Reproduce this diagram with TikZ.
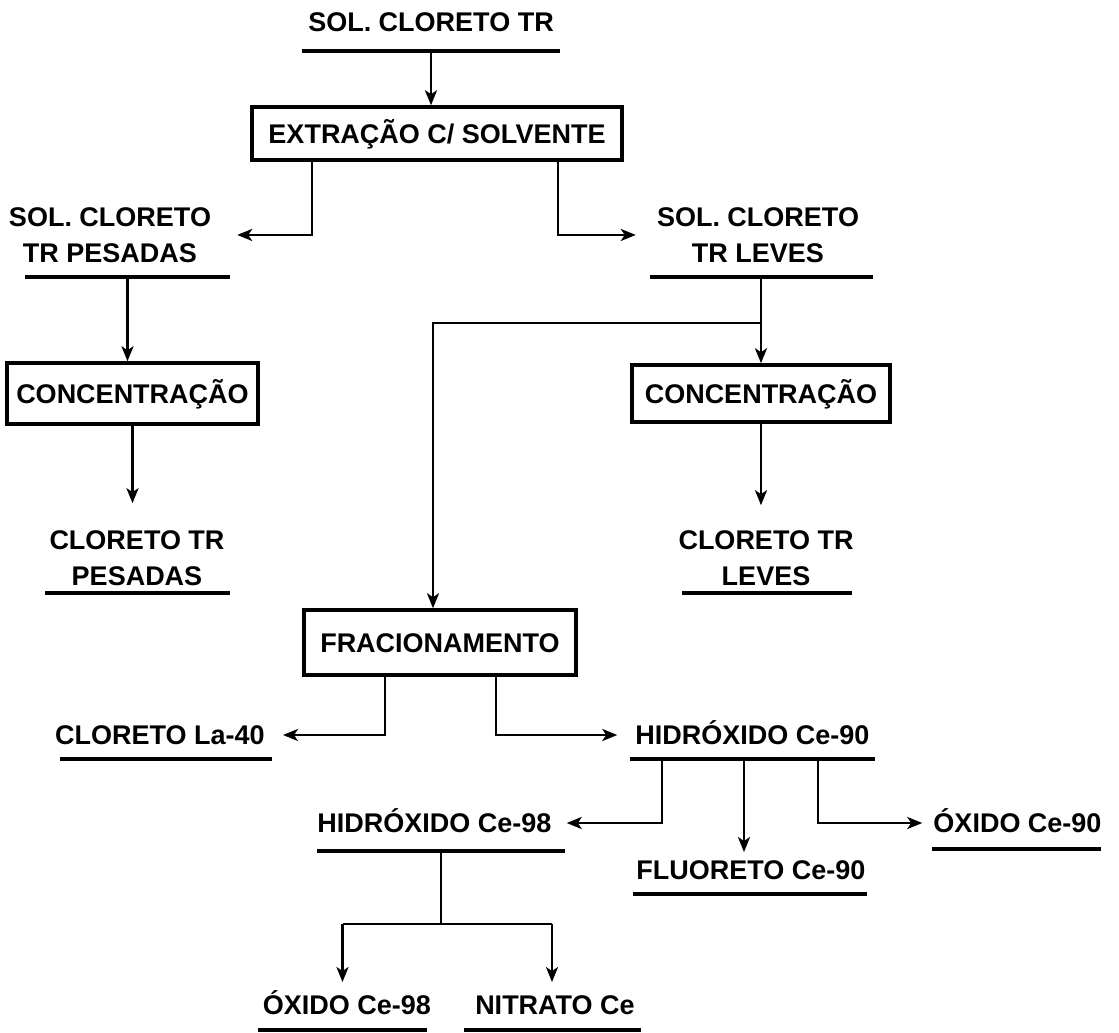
\documentclass[tikz,border=0pt]{standalone}
\usepackage{fontspec}
\setmainfont{Liberation Sans}
\usetikzlibrary{arrows.meta}
\begin{document}
\begin{tikzpicture}[x=1pt,y=-1pt,
  lbl/.style={font=\fontsize{27}{36}\selectfont\bfseries, inner xsep=3pt, inner ysep=3pt, text height=19.5pt, text depth=0pt},
  lbltwo/.style={font=\fontsize{27}{36}\selectfont\bfseries, inner xsep=3pt, inner ysep=3pt, align=center, anchor=north},
  ul/.style={fill=black, draw=none, inner sep=0pt, minimum height=4pt, rectangle},
  procbox/.style={draw, line width=3.5pt, inner sep=0pt, font=\fontsize{27}{36}\selectfont\bfseries, text height=19.5pt, text depth=0pt},
  conn/.style={line width=2.6pt},
  arr/.style={conn, -{Stealth[length=15pt,width=12pt,inset=4pt]}}
]
\useasboundingbox (0,0) rectangle (1119,1033);

% labels and boxes
\node[lbl] (t0) at (431,22) {SOL. CLORETO TR};
\node[ul,minimum width=258pt] (u0) at (431,51) {};
\node[procbox,minimum width=370pt,minimum height=53pt] (b1) at (437,133.5) {EXTRAÇÃO C/ SOLVENTE};

\node[lbltwo] (t1) at (110,204.2) {SOL. CLORETO\\TR PESADAS};
\node[ul,minimum width=205pt] (u1) at (127.5,277) {};
\node[lbltwo] (t2) at (758,204.2) {SOL. CLORETO\\TR LEVES};
\node[ul,minimum width=223pt] (u2) at (761.5,277) {};

\node[procbox,minimum width=251pt,minimum height=61pt] (b2) at (132.5,393.5) {CONCENTRAÇÃO};
\node[procbox,minimum width=258pt,minimum height=57pt] (b3) at (761,393.5) {CONCENTRAÇÃO};

\node[lbltwo] (t3) at (137,527.2) {CLORETO TR\\PESADAS};
\node[ul,minimum width=185pt] (u3) at (137.5,593) {};
\node[lbltwo] (t4) at (766,527.2) {CLORETO TR\\LEVES};
\node[ul,minimum width=170pt] (u4) at (767,593) {};

\node[procbox,minimum width=272pt,minimum height=65pt] (b4) at (440,642.5) {FRACIONAMENTO};

\node[lbl] (t5) at (160,735) {CLORETO La-40};
\node[ul,minimum width=212pt] (u5) at (166,759) {};
\node[lbl] (t6) at (752.5,735) {HIDRÓXIDO Ce-90};
\node[ul,minimum width=245pt] (u6) at (752.5,759) {};

\node[lbl] (t7) at (434.5,823) {HIDRÓXIDO Ce-98};
\node[ul,minimum width=248pt] (u7) at (441,851) {};
\node[lbl] (t8) at (751,870) {FLUORETO Ce-90};
\node[ul,minimum width=234pt] (u8) at (750,894) {};
\node[lbl] (t9) at (1017.5,823) {ÓXIDO Ce-90};
\node[ul,minimum width=169pt] (u9) at (1016.5,849) {};

\node[lbl] (t10) at (347,1005) {ÓXIDO Ce-98};
\node[ul,minimum width=169pt] (u10) at (342.5,1030) {};
\node[lbl] (t11) at (555,1005) {NITRATO Ce};
\node[ul,minimum width=177pt] (u11) at (552,1030) {};

% connectors
\draw[arr] (u0) -- (u0 |- b1.north);
\draw[arr, shorten >=23pt] (b1.south -| 312,0) |- (t1.east);
\draw[arr, shorten >=18pt] (b1.south -| 558,0) |- (t2.west);

\draw[arr] (u1) -- (u1 |- b2.north);
\draw[arr] (u2 -| b3.north) -- (b3.north);
\coordinate (sp) at (b3.north |- 0,323);
\draw[arr] (sp) -| ([xshift=-7pt]b4.north);

\draw[arr, shorten >=24pt] (b2.south) -- (b2.south |- t3.north);
\draw[arr, shorten >=22pt] (b3.south) -- (b3.south |- t4.north);

\draw[arr, shorten >=15pt] (b4.south -| 385,0) |- (t5.east);
\draw[arr, shorten >=15pt] (b4.south -| 496,0) |- (t6.west);

\draw[arr, shorten >=12pt] (u6.south -| 662,0) |- (t7.east);
\draw[arr, shorten >=5pt] (u6.south -| 744,0) -- (t8.north -| 744,0);
\draw[arr, shorten >=8pt] (u6.south -| 818,0) |- (t9.west);

\coordinate (j) at (u7 |- 0,924);
\draw[conn] (u7.south) -- (j);
\draw[conn] (u10 |- j) -- (u11 |- j);
\draw[arr, shorten >=10pt] (u10 |- j) -- (u10 |- t10.north);
\draw[arr, shorten >=10pt] (u11 |- j) -- (u11 |- t11.north);
\end{tikzpicture}
\end{document}
